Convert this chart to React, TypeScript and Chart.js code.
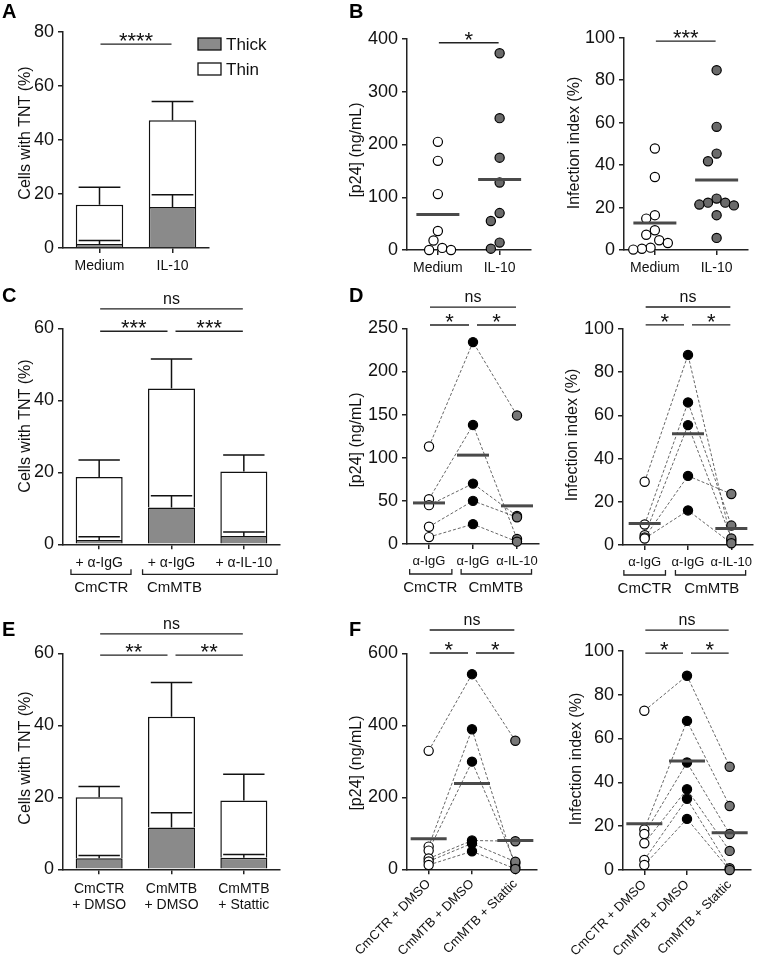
import React, { useEffect, useRef } from "react";
import { Chart, registerables } from "chart.js";
Chart.register(...registerables);

const FONT = "'Liberation Sans', Arial, Helvetica, sans-serif";
const AXIS = "#222";
const TEXT = "#111";
const BAR_GRAY = "#8a8a8a";
const PT_GRAY_B = "#6a6a6a";
const PT_GRAY = "#777777";
const MEAN = "#4a4a4a";
const LINK = "#555555";
const Y_TICK_SIZE = 18;
const Y_TITLE_SIZE = 16;

// ---------- Panel A ----------
const aCategories = ["Medium", "IL-10"];
const aThick = [1.5, 15.2];
const aThickErr = [1.3, 4.5];
const aThin = [14.5, 32.1];
const aThinErr = [6.5, 7.0];
const aSig = [{ from: 0, to: 1, y: 75.5, label: "****" }];

// ---------- Panel B ----------
const bCategories = ["Medium", "IL-10"];
const bP24Medium = [205, 169, 106, 36, 18, 4, 0, 0];
const bP24IL10 = [373, 250, 175, 128, 70, 55, 14, 2.5];
const bInfMedium = [47.8, 34.4, 16.4, 14.8, 9.3, 7.2, 4.6, 3.3, 1.1, 0.6, 0.2];
const bInfIL10 = [84.7, 58, 45.4, 41.8, 24.2, 22.3, 22.3, 21.4, 21, 16.4, 5.7];
const bP24Sig = [{ from: 0, to: 1, y: 393, label: "*" }];
const bInfSig = [{ from: 0, to: 1, y: 98.4, label: "***" }];

// ---------- Panel C ----------
const cCategories = ["+ α-IgG", "+ α-IgG", "+ α-IL-10"];
const cThick = [1.2, 10.2, 2.3];
const cThickErr = [0.9, 3.3, 1.1];
const cThin = [17.5, 33.1, 17.9];
const cThinErr = [4.7, 8.2, 4.6];
const cSig = [
  { from: 0, to: 2, y: 65.4, label: "ns" },
  { from: 0, to: 1, y: 59.2, label: "***" },
  { from: 1, to: 2, y: 59.2, label: "***" },
];
const cGroups = [
  { from: -0.39, to: 0.44, at: 0.03, label: "CmCTR" },
  { from: 0.6, to: 2.46, at: 1.04, label: "CmMTB" },
];

// ---------- Panel D ----------
const dCategories = ["α-IgG", "α-IgG", "α-IL-10"];
const dP24CTR = [113, 52, 45, 20, 8];
const dP24MTB = [234, 138, 70, 50, 23];
const dP24IL10 = [149, 5.8, 32.5, 31, 2.7];
const dInfCTR = [29.3, 9.5, 4.5, 3.5, 3];
const dInfMTB = [88, 66, 55.5, 32, 16];
const dInfIL10 = [2, 9, 3, 23.6, 0.8];
const dP24Sig = [
  { from: 0, to: 2, y: 274.6, label: "ns" },
  { from: 0, to: 1, y: 253.8, label: "*" },
  { from: 1, to: 2, y: 253.8, label: "*" },
];
const dInfSig = [
  { from: 0, to: 2, y: 110.2, label: "ns" },
  { from: 0, to: 1, y: 101.9, label: "*" },
  { from: 1, to: 2, y: 101.9, label: "*" },
];
const dGroupsL = [
  { from: -0.44, to: 0.52, at: 0.03, label: "CmCTR" },
  { from: 0.73, to: 2.33, at: 1.52, label: "CmMTB" },
];
const dGroupsR = [
  { from: -0.48, to: 0.48, at: 0, label: "CmCTR" },
  { from: 0.71, to: 2.33, at: 1.55, label: "CmMTB" },
];

// ---------- Panel E ----------
const eCategories = [["CmCTR", "+ DMSO"], ["CmMTB", "+ DMSO"], ["CmMTB", "+ Stattic"]];
const eThick = [3.1, 11.6, 3.2];
const eThickErr = [0.7, 4.1, 0.9];
const eThin = [16.9, 30.8, 15.9];
const eThinErr = [3.0, 9.5, 7.3];
const eSig = [
  { from: 0, to: 2, y: 65.4, label: "ns" },
  { from: 0, to: 1, y: 59.5, label: "**" },
  { from: 1, to: 2, y: 59.5, label: "**" },
];

// ---------- Panel F ----------
const fCategories = ["CmCTR + DMSO", "CmMTB + DMSO", "CmMTB + Stattic"];
const fP24CTR = [329, 63, 52, 30, 22, 12];
const fP24MTB = [542, 389, 299, 80, 72, 50];
const fP24Stattic = [357, 5.6, 17, 78, 21, 1];
const fInfCTR = [72.6, 18.5, 16.4, 12.2, 4.6, 2.3];
const fInfMTB = [88.6, 68, 49, 36.8, 32.5, 23.3];
const fInfStattic = [47.1, 29.2, 16.4, 8.7, 0.8, 0];
const fP24Sig = [
  { from: 0, to: 2, y: 664.7, label: "ns" },
  { from: 0, to: 1, y: 600.8, label: "*" },
  { from: 1, to: 2, y: 600.8, label: "*" },
];
const fInfSig = [
  { from: 0, to: 2, y: 109.4, label: "ns" },
  { from: 0, to: 1, y: 98.9, label: "*" },
  { from: 1, to: 2, y: 98.9, label: "*" },
];

// ---------- layout ----------
type Geom = {
  x0: number; y0: number; w: number; h: number;
  left: number; right: number; top: number; bottom: number;
  titleX: number; titleY: number;
};

const GA: Geom = { x0: 0, y0: 0, w: 300, h: 285, left: 63, right: 209, top: 32, bottom: 248, titleX: 26, titleY: 133 };
const GB1: Geom = { x0: 340, y0: 0, w: 215, h: 285, left: 407, right: 548, top: 39, bottom: 250, titleX: 357, titleY: 150 };
const GB2: Geom = { x0: 560, y0: 0, w: 212, h: 285, left: 624, right: 767, top: 37.7, bottom: 250, titleX: 575, titleY: 143 };
const GC: Geom = { x0: 0, y0: 290, w: 300, h: 320, left: 63, right: 280, top: 328.3, bottom: 544.3, titleX: 26, titleY: 426 };
const GD1: Geom = { x0: 340, y0: 290, w: 218, h: 320, left: 407, right: 552, top: 328.3, bottom: 544, titleX: 357, titleY: 440 };
const GD2: Geom = { x0: 560, y0: 290, w: 212, h: 320, left: 623, right: 766, top: 329, bottom: 545, titleX: 573, titleY: 435 };
const GE: Geom = { x0: 0, y0: 615, w: 300, h: 340, left: 63, right: 280, top: 653.3, bottom: 869.3, titleX: 26, titleY: 758 };
const GF1: Geom = { x0: 340, y0: 615, w: 218, h: 345, left: 407, right: 553, top: 653.3, bottom: 869.3, titleX: 357, titleY: 763 };
const GF2: Geom = { x0: 560, y0: 615, w: 212, h: 345, left: 623, right: 769, top: 650.7, bottom: 870, titleX: 577, titleY: 759 };

const mean = (a: number[]) => a.reduce((s, v) => s + v, 0) / a.length;

function swarmX(values: number[], cat: number, g: Geom, yMax: number, nCats: number, diam = 10): number[] {
  const pyu = (g.bottom - g.top) / yMax;
  const pxc = (g.right - g.left) / nCats;
  const placed: [number, number][] = [];
  return values.map((v) => {
    const py = v * pyu;
    let chosen = 0;
    for (let k = 0; k < 60; k++) {
      const off = k === 0 ? 0 : (k % 2 ? -1 : 1) * Math.ceil(k / 2) * diam * 0.5;
      if (placed.every(([px, q]) => Math.hypot(px - off, q - py) >= diam)) {
        chosen = off;
        break;
      }
    }
    placed.push([chosen, py]);
    return cat + chosen / pxc;
  });
}

function yScale(g: Geom, max: number, step: number, stacked = false) {
  return {
    type: "linear",
    min: 0,
    max,
    stacked,
    ticks: { stepSize: step, font: { family: FONT, size: Y_TICK_SIZE }, color: TEXT, padding: 4 },
    grid: { drawOnChartArea: false, drawTicks: true, tickLength: 5, color: AXIS, lineWidth: 1.5 },
    border: { display: true, color: AXIS, width: 1.5 },
    afterFit: (s: any) => {
      s.width = g.left - g.x0;
    },
  };
}

function titlePlugin(g: Geom, text: string) {
  return {
    id: "ytitle",
    afterDraw(chart: any) {
      const { ctx } = chart;
      ctx.save();
      ctx.translate(g.titleX - g.x0, g.titleY - g.y0);
      ctx.rotate(-Math.PI / 2);
      ctx.fillStyle = TEXT;
      ctx.font = `${Y_TITLE_SIZE}px ${FONT}`;
      ctx.textAlign = "center";
      ctx.textBaseline = "middle";
      ctx.fillText(text, 0, 0);
      ctx.restore();
    },
  };
}

function xCommon(g: Geom, fontSize: number, rotation: number, pad: number) {
  return {
    grid: { drawOnChartArea: false, drawTicks: true, tickLength: 5, color: AXIS, lineWidth: 1.5, offset: false },
    border: { display: true, color: AXIS, width: 1.5 },
    ticks: {
      font: { family: FONT, size: fontSize, lineHeight: 1.2 },
      color: TEXT,
      padding: pad,
      autoSkip: false,
      minRotation: rotation,
      maxRotation: rotation,
    } as any,
    afterFit: (s: any) => {
      s.height = g.y0 + g.h - g.bottom;
    },
  };
}

function baseOptions(g: Geom, scales: any) {
  return {
    responsive: false,
    animation: false,
    devicePixelRatio: 1,
    events: [],
    layout: { padding: { left: 0, top: g.top - g.y0, right: g.x0 + g.w - g.right, bottom: 0 } },
    plugins: { legend: { display: false }, tooltip: { enabled: false }, title: { display: false } },
    scales,
  };
}

function sigPlugin(items: { from: number; to: number; y: number; label: string }[]) {
  return {
    id: "sig",
    afterDraw(chart: any) {
      const { ctx } = chart;
      const x = chart.scales.x;
      const y = chart.scales.y;
      ctx.save();
      ctx.strokeStyle = AXIS;
      ctx.lineWidth = 1.4;
      ctx.fillStyle = TEXT;
      ctx.textAlign = "center";
      ctx.textBaseline = "alphabetic";
      for (const it of items) {
        const sharedFrom = items.some((o) => o !== it && o.y === it.y && o.to === it.from);
        const sharedTo = items.some((o) => o !== it && o.y === it.y && o.from === it.to);
        const x1 = x.getPixelForValue(it.from) + (sharedFrom ? 4 : 1);
        const x2 = x.getPixelForValue(it.to) - (sharedTo ? 4 : 1);
        const yy = y.getPixelForValue(it.y);
        ctx.beginPath();
        ctx.moveTo(x1, yy);
        ctx.lineTo(x2, yy);
        ctx.stroke();
        const isStar = it.label.indexOf("*") >= 0;
        ctx.font = isStar ? `22px ${FONT}` : `16px ${FONT}`;
        ctx.fillText(it.label, (x1 + x2) / 2, isStar ? yy + 4 : yy - 5);
      }
      ctx.restore();
    },
  };
}

function errorPlugin(errs: number[][]) {
  return {
    id: "err",
    afterDatasetsDraw(chart: any) {
      const { ctx } = chart;
      const y = chart.scales.y;
      ctx.save();
      ctx.strokeStyle = "#111";
      ctx.lineWidth = 1.5;
      errs.forEach((arr, d) => {
        const meta = chart.getDatasetMeta(d);
        meta.data.forEach((el: any, j: number) => {
          let base = 0;
          for (let k = 0; k <= d; k++) base += chart.data.datasets[k].data[j];
          const yTop = y.getPixelForValue(base);
          const yErr = y.getPixelForValue(base + arr[j]);
          const half = el.width * 0.44;
          ctx.beginPath();
          ctx.moveTo(el.x, yTop);
          ctx.lineTo(el.x, yErr);
          ctx.moveTo(el.x - half, yErr);
          ctx.lineTo(el.x + half, yErr);
          ctx.stroke();
        });
      });
      ctx.restore();
    },
  };
}

function legendPlugin(g: Geom, px: number, py: number) {
  return {
    id: "lg",
    afterDraw(chart: any) {
      const { ctx } = chart;
      const ds = chart.data.datasets;
      ctx.save();
      ds.forEach((d: any, i: number) => {
        const bx = px - g.x0;
        const by = py - g.y0 + i * 25;
        ctx.fillStyle = d.backgroundColor;
        ctx.fillRect(bx, by, 23, 12);
        ctx.strokeStyle = "#111";
        ctx.lineWidth = 1.3;
        ctx.strokeRect(bx, by, 23, 12);
        ctx.fillStyle = TEXT;
        ctx.font = `17px ${FONT}`;
        ctx.textBaseline = "alphabetic";
        ctx.textAlign = "left";
        ctx.fillText(d.label, bx + 28, by + 12);
      });
      ctx.restore();
    },
  };
}

function bracketPlugin(groups: { from: number; to: number; at: number; label: string }[]) {
  return {
    id: "brk",
    afterDraw(chart: any) {
      const { ctx } = chart;
      const x = chart.scales.x;
      const yb = chart.chartArea.bottom;
      ctx.save();
      ctx.strokeStyle = AXIS;
      ctx.lineWidth = 1.3;
      ctx.fillStyle = TEXT;
      ctx.font = `15px ${FONT}`;
      ctx.textAlign = "center";
      ctx.textBaseline = "middle";
      for (const gr of groups) {
        const x1 = x.getPixelForValue(gr.from);
        const x2 = x.getPixelForValue(gr.to);
        const ly = yb + 30;
        ctx.beginPath();
        ctx.moveTo(x1, ly - 5);
        ctx.lineTo(x1, ly);
        ctx.lineTo(x2, ly);
        ctx.lineTo(x2, ly - 5);
        ctx.stroke();
        ctx.fillText(gr.label, x.getPixelForValue(gr.at), ly + 14);
      }
      ctx.restore();
    },
  };
}

function barConfig(
  g: Geom,
  labels: any[],
  thick: number[],
  thickErr: number[],
  thin: number[],
  thinErr: number[],
  yMax: number,
  step: number,
  sig: any[],
  tickSize: number,
  pad: number,
  extra: any[]
) {
  const x = { type: "category", offset: true, stacked: true, ...xCommon(g, tickSize, 0, pad) };
  return {
    type: "bar",
    data: {
      labels,
      datasets: [
        { label: "Thick", data: thick, backgroundColor: BAR_GRAY, borderColor: "#111", borderWidth: 1.5, barPercentage: 0.65, categoryPercentage: 1 },
        { label: "Thin", data: thin, backgroundColor: "#ffffff", borderColor: "#111", borderWidth: 1.5, barPercentage: 0.65, categoryPercentage: 1 },
      ],
    },
    options: baseOptions(g, { x, y: yScale(g, yMax, step, true) }),
    plugins: [errorPlugin([thickErr, thinErr]), sigPlugin(sig), titlePlugin(g, "Cells with TNT (%)"), ...extra],
  };
}

function dotConfig(
  g: Geom,
  labels: string[],
  groups: number[][],
  fills: string[],
  yMax: number,
  step: number,
  title: string,
  sig: any[],
  o: { jitter: boolean; paired: boolean; meanHalf: number; rotation: number; tickSize: number; pad: number; extra: any[] }
) {
  const n = labels.length;
  const datasets: any[] = [];
  if (o.paired) {
    const donors = groups[0].length;
    for (let i = 0; i < donors; i++) {
      datasets.push({
        data: groups.map((arr, c) => ({ x: c, y: arr[i] })),
        showLine: true,
        borderColor: LINK,
        borderWidth: 0.9,
        borderDash: [3, 2],
        pointRadius: 0,
        order: 2,
        clip: false,
      });
    }
  }
  groups.forEach((arr, c) => {
    const xs = o.jitter ? swarmX(arr, c, g, yMax, n) : arr.map(() => c);
    datasets.push({
      data: arr.map((v, k) => ({ x: xs[k], y: v })),
      pointBackgroundColor: fills[c],
      pointBorderColor: "#000",
      pointBorderWidth: 1.2,
      pointRadius: 4.6,
      showLine: false,
      order: 1,
      clip: false,
    });
  });
  datasets.push({
    data: groups.map((arr, c) => ({ x: c, y: mean(arr) })),
    pointStyle: "line",
    pointRadius: o.meanHalf,
    pointBorderColor: MEAN,
    pointBorderWidth: 3,
    showLine: false,
    order: 0,
    clip: false,
  });
  const xc = xCommon(g, o.tickSize, o.rotation, o.pad);
  const x = {
    type: "linear",
    min: -0.5,
    max: n - 0.5,
    ...xc,
    afterBuildTicks: (s: any) => {
      s.ticks = labels.map((_, i) => ({ value: i }));
    },
    ticks: { ...xc.ticks, callback: (v: any) => labels[Math.round(Number(v))] },
  };
  return {
    type: "scatter",
    data: { datasets },
    options: baseOptions(g, { x, y: yScale(g, yMax, step) }),
    plugins: [sigPlugin(sig), titlePlugin(g, title), ...o.extra],
  };
}

const PANELS: { g: Geom; make: () => any }[] = [
  {
    g: GA,
    make: () => barConfig(GA, aCategories, aThick, aThickErr, aThin, aThinErr, 80, 20, aSig, 14, 5, [legendPlugin(GA, 198, 38)]),
  },
  {
    g: GB1,
    make: () =>
      dotConfig(GB1, bCategories, [bP24Medium, bP24IL10], ["#ffffff", PT_GRAY_B], 400, 100, "[p24] (ng/mL)", bP24Sig, {
        jitter: true, paired: false, meanHalf: 21.5, rotation: 0, tickSize: 14, pad: 5, extra: [],
      }),
  },
  {
    g: GB2,
    make: () =>
      dotConfig(GB2, bCategories, [bInfMedium, bInfIL10], ["#ffffff", PT_GRAY_B], 100, 20, "Infection index (%)", bInfSig, {
        jitter: true, paired: false, meanHalf: 21.5, rotation: 0, tickSize: 14, pad: 5, extra: [],
      }),
  },
  {
    g: GC,
    make: () => barConfig(GC, cCategories, cThick, cThickErr, cThin, cThinErr, 60, 20, cSig, 14, 5, [bracketPlugin(cGroups)]),
  },
  {
    g: GD1,
    make: () =>
      dotConfig(GD1, dCategories, [dP24CTR, dP24MTB, dP24IL10], ["#ffffff", "#000000", PT_GRAY], 250, 50, "[p24] (ng/mL)", dP24Sig, {
        jitter: false, paired: true, meanHalf: 16, rotation: 0, tickSize: 13, pad: 5, extra: [bracketPlugin(dGroupsL)],
      }),
  },
  {
    g: GD2,
    make: () =>
      dotConfig(GD2, dCategories, [dInfCTR, dInfMTB, dInfIL10], ["#ffffff", "#000000", PT_GRAY], 100, 20, "Infection index (%)", dInfSig, {
        jitter: false, paired: true, meanHalf: 16, rotation: 0, tickSize: 13, pad: 5, extra: [bracketPlugin(dGroupsR)],
      }),
  },
  {
    g: GE,
    make: () => barConfig(GE, eCategories, eThick, eThickErr, eThin, eThinErr, 60, 20, eSig, 14, 6, []),
  },
  {
    g: GF1,
    make: () =>
      dotConfig(GF1, fCategories, [fP24CTR, fP24MTB, fP24Stattic], ["#ffffff", "#000000", PT_GRAY], 600, 200, "[p24] (ng/mL)", fP24Sig, {
        jitter: false, paired: true, meanHalf: 18, rotation: 45, tickSize: 13, pad: 2, extra: [],
      }),
  },
  {
    g: GF2,
    make: () =>
      dotConfig(GF2, fCategories, [fInfCTR, fInfMTB, fInfStattic], ["#ffffff", "#000000", PT_GRAY], 100, 20, "Infection index (%)", fInfSig, {
        jitter: false, paired: true, meanHalf: 18, rotation: 45, tickSize: 13, pad: 2, extra: [],
      }),
  },
];

const LETTERS = [
  { t: "A", x: 2, base: 18 },
  { t: "B", x: 349, base: 18 },
  { t: "C", x: 2, base: 302 },
  { t: "D", x: 349, base: 302 },
  { t: "E", x: 2, base: 636 },
  { t: "F", x: 349, base: 636 },
];

function ChartBox({ g, make }: { g: Geom; make: () => any }) {
  const ref = useRef<HTMLCanvasElement>(null);
  useEffect(() => {
    const chart = new Chart(ref.current as HTMLCanvasElement, make());
    return () => chart.destroy();
  }, []);
  return (
    <canvas
      ref={ref}
      width={g.w}
      height={g.h}
      style={{ position: "absolute", left: g.x0, top: g.y0, width: g.w, height: g.h }}
    />
  );
}

export default function App() {
  return (
    <div style={{ position: "fixed", left: 0, top: 0, width: 772, height: 960, background: "#ffffff", overflow: "hidden" }}>
      {PANELS.map((p, i) => (
        <ChartBox key={i} g={p.g} make={p.make} />
      ))}
      {LETTERS.map((l) => (
        <div
          key={l.t}
          style={{
            position: "absolute",
            left: l.x,
            top: l.base - 16,
            font: `bold 20px ${FONT}`,
            lineHeight: "19px",
            color: "#000",
          }}
        >
          {l.t}
        </div>
      ))}
    </div>
  );
}
